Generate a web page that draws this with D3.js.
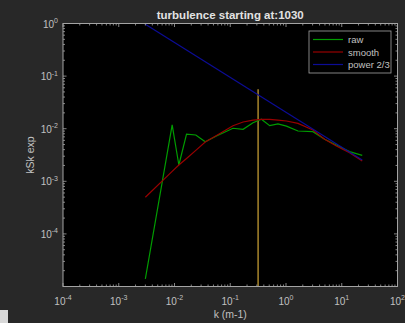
<!DOCTYPE html>
<html>
<head>
<meta charset="utf-8">
<script src="https://cdn.jsdelivr.net/npm/d3@7"></script>
<style>
	body { margin: 0; background: #282828; overflow: hidden; }
	text { font-family: "Liberation Sans", Arial, sans-serif; fill: #c0c0c0; }
</style>
</head>
<body>
<svg id="chart" width="405" height="323"></svg>
<script>
// wavenumbers of the spectrum bins
const kValues = [0.0030, 0.00908, 0.01197, 0.01644, 0.0241, 0.0356, 0.0566, 0.112, 0.170, 0.256,
	0.362, 0.510, 0.718, 1.02, 1.64, 3.04, 4.93, 7.98, 13.8, 23.3];
const rawValues = [1.39e-5, 0.0118, 0.00204, 0.0079, 0.0076, 0.00566, 0.00726, 0.0102, 0.00975, 0.0130,
	0.0151, 0.0114, 0.0123, 0.0112, 0.00904, 0.00877, 0.0063, 0.0049, 0.00366, 0.00312];
const smoothValues = [4.97e-4, 1.54e-3, 2.04e-3, 2.72e-3, 3.88e-3, 5.59e-3, 7.43e-3, 0.0114, 0.0134, 0.0146,
	0.0151, 0.0151, 0.0146, 0.0140, 0.0126, 0.00945, 0.00629, 0.00469, 0.00350, 0.00243];
// power 2/3 reference line end points
const powerK = [0.0030, 23.3];
const powerValues = [0.97, 0.00255];
// vertical marker
const markerK = 0.316;
const markerValues = [0.056, 1e-5];

const xDecades = [-4, -3, -2, -1, 0, 1, 2];
const yDecades = [-4, -3, -2, -1, 0];

const series = [
	{name: 'raw', color: '#009c00', values: rawValues, k: kValues},
	{name: 'smooth', color: '#980000', values: smoothValues, k: kValues},
	{name: 'power 2/3', color: '#0c0c96', values: powerValues, k: powerK}
];

const width = 405, height = 323;
const margin = {top: 23.5, right: 7.5, bottom: 36.5, left: 63};
const innerW = width - margin.left - margin.right;
const innerH = height - margin.top - margin.bottom;
const axisColor = '#a4a4a4';

const svg = d3.select('#chart');

const x = d3.scaleLog().domain([1e-4, 1e2]).range([0, innerW]);
const y = d3.scaleLog().domain([1e-5, 1]).range([innerH, 0]);

const g = svg.append('g').attr('transform', `translate(${margin.left},${margin.top})`);

g.append('rect')
	.attr('width', innerW)
	.attr('height', innerH)
	.attr('fill', '#000');

g.append('clipPath').attr('id', 'clip')
	.append('rect').attr('width', innerW).attr('height', innerH);

const plot = g.append('g').attr('clip-path', 'url(#clip)');

const line = d3.line()
	.x(d => x(d[0]))
	.y(d => y(d[1]));

plot.append('line')
	.attr('x1', x(markerK)).attr('x2', x(markerK))
	.attr('y1', y(markerValues[0])).attr('y2', y(markerValues[1]))
	.attr('stroke', '#a8862c')
	.attr('stroke-width', 1.5);

series.forEach(s => {
	plot.append('path')
		.datum(s.k.map((k, i) => [k, s.values[i]]))
		.attr('fill', 'none')
		.attr('stroke', s.color)
		.attr('stroke-width', 1.2)
		.attr('d', line);
});

// ticks on all four sides, pointing inward
const majorX = xDecades.map(e => Math.pow(10, e));
const majorY = yDecades.concat([-5]).map(e => Math.pow(10, e));
const minorX = x.ticks().filter(t => !majorX.some(m => Math.abs(m - t) / m < 1e-6));
const minorY = y.ticks().filter(t => !majorY.some(m => Math.abs(m - t) / m < 1e-6));

function tickMarks(group, values, scale, horizontal, len, atEdge) {
	group.selectAll(null)
		.data(values)
		.enter().append('line')
		.attr('x1', d => horizontal ? scale(d) : atEdge)
		.attr('x2', d => horizontal ? scale(d) : atEdge + (atEdge === 0 ? len : -len))
		.attr('y1', d => horizontal ? atEdge : scale(d))
		.attr('y2', d => horizontal ? atEdge + (atEdge === 0 ? len : -len) : scale(d))
		.attr('stroke', axisColor)
		.attr('stroke-width', 0.8);
}

const ticks = g.append('g');
tickMarks(ticks, majorX, x, true, 3.5, innerH);
tickMarks(ticks, majorX, x, true, 3.5, 0);
tickMarks(ticks, minorX, x, true, 2, innerH);
tickMarks(ticks, minorX, x, true, 2, 0);
tickMarks(ticks, majorY, y, false, 3.5, 0);
tickMarks(ticks, majorY, y, false, 3.5, innerW);
tickMarks(ticks, minorY, y, false, 2, 0);
tickMarks(ticks, minorY, y, false, 2, innerW);

g.append('rect')
	.attr('width', innerW)
	.attr('height', innerH)
	.attr('fill', 'none')
	.attr('stroke', axisColor)
	.attr('stroke-width', 1);

function powerLabel(sel, e) {
	sel.append('tspan').text('10');
	sel.append('tspan')
		.attr('dy', -4.5)
		.attr('font-size', 7)
		.text(e);
}

g.append('g').selectAll('text')
	.data(xDecades)
	.enter().append('text')
	.attr('x', d => x(Math.pow(10, d)))
	.attr('y', innerH + 18)
	.attr('text-anchor', 'middle')
	.attr('font-size', 10)
	.each(function (d) { powerLabel(d3.select(this), d); });

g.append('g').selectAll('text')
	.data(yDecades)
	.enter().append('text')
	.attr('x', -5)
	.attr('y', d => y(Math.pow(10, d)) + 4)
	.attr('text-anchor', 'end')
	.attr('font-size', 10)
	.each(function (d) { powerLabel(d3.select(this), d); });

svg.append('text')
	.attr('x', margin.left + innerW / 2)
	.attr('y', 318)
	.attr('text-anchor', 'middle')
	.attr('font-size', 10.5)
	.text('k (m-1)');

svg.append('text')
	.attr('transform', `translate(34,${margin.top + innerH / 2}) rotate(-90)`)
	.attr('text-anchor', 'middle')
	.attr('font-size', 10.5)
	.text('kSk exp');

svg.append('text')
	.attr('x', margin.left + innerW / 2)
	.attr('y', 19)
	.attr('text-anchor', 'middle')
	.attr('font-size', 11.5)
	.attr('font-weight', 'bold')
	.style('fill', '#e2e2e2')
	.text('turbulence starting at:1030');

// legend
const legend = g.append('g').attr('transform', `translate(${309 - margin.left},${31 - margin.top})`);
legend.append('rect')
	.attr('width', 82)
	.attr('height', 42)
	.attr('fill', '#000')
	.attr('stroke', axisColor)
	.attr('stroke-width', 0.8);

const rows = legend.selectAll('g.row')
	.data(series)
	.enter().append('g')
	.attr('class', 'row')
	.attr('transform', (d, i) => `translate(0,${8.5 + i * 12.5})`);
rows.append('line')
	.attr('x1', 4).attr('x2', 34)
	.attr('stroke', d => d.color)
	.attr('stroke-width', 1.2);
rows.append('text')
	.attr('x', 39)
	.attr('y', 3.5)
	.attr('font-size', 9.5)
	.text(d => d.name);

// stray window widget in the lower left corner
svg.append('rect')
	.attr('x', 0).attr('y', 310)
	.attr('width', 8).attr('height', 13)
	.attr('fill', '#d8d8d8');
</script>
</body>
</html>
